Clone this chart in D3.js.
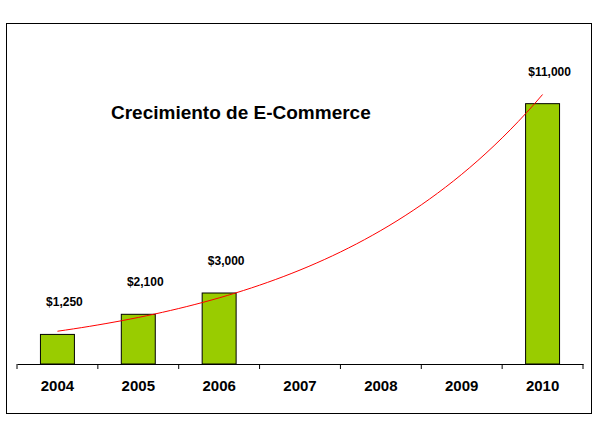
<!DOCTYPE html><html><head><meta charset="utf-8">
<script src="https://cdn.jsdelivr.net/npm/d3@7"></script>
<style>body{margin:0;background:#fff}</style></head><body><svg id="c" width="598" height="440"></svg>
<script>
const years=["2004","2005","2006","2007","2008","2009","2010"];
const values=[1250,2100,3000,null,null,null,11000];
const valueLabels=["$1,250","$2,100","$3,000","","","","$11,000"];
const title="Crecimiento de E-Commerce";
const svg=d3.select("#c");
const font="'Liberation Sans',Arial,sans-serif";
svg.append("rect").attr("x",6.5).attr("y",23.5).attr("width",585).attr("height",390).attr("fill","#fff").attr("stroke","#000");
const x=d3.scaleBand().domain(years).range([17,583]).paddingInner(0.58).paddingOuter(0.29);
const xo=d3.scaleBand().domain(years).range([17,583]);
const y=d3.scaleLinear().domain([0,12000]).range([364,80]);
const g=svg.append("g").attr("transform","translate(0,364)");
const ax=d3.axisBottom(xo).tickSize(0).tickFormat(d=>d);
g.call(ax);g.select(".domain").attr("stroke","#000");
g.selectAll(".tick text").attr("dy","1.6em").attr("font-family",font).attr("font-weight","bold").attr("font-size","15px").attr("fill","#000");
xo.domain().concat(["end"]).forEach((d,i)=>{const xx=17+i*xo.step();g.append("line").attr("x1",xx).attr("x2",xx).attr("y1",0).attr("y2",5).attr("stroke","#000");});
const data=years.map((d,i)=>({y:d,v:values[i],l:valueLabels[i]})).filter(d=>d.v!=null);
svg.selectAll(".bar").data(data).enter().append("rect").attr("x",d=>x(d.y)).attr("width",x.bandwidth()).attr("y",d=>y(d.v)).attr("height",d=>364-y(d.v)).attr("fill","#99CC00").attr("stroke","#000");
svg.selectAll(".vl").data(data).enter().append("text").attr("x",d=>xo(d.y)+xo.bandwidth()/2+7).attr("y",d=>y(d.v)-28).attr("text-anchor","middle").attr("font-family",font).attr("font-weight","bold").attr("font-size","12px").text(d=>d.l);
// exponential trendline fitted to data (least squares on log values)
const pts=data.map(d=>[years.indexOf(d.y),Math.log(d.v)]);
const n=pts.length,mx=d3.mean(pts,p=>p[0]),my=d3.mean(pts,p=>p[1]);
const b=d3.sum(pts,p=>(p[0]-mx)*(p[1]-my))/d3.sum(pts,p=>(p[0]-mx)**2),a=my-b*mx;
const cx=i=>xo(years[0])+xo.bandwidth()/2+i*xo.step();
const tr=d3.range(0,6.01,0.1).map(t=>[cx(t),y(Math.exp(a+b*t))]);
svg.append("path").attr("d",d3.line()(tr)).attr("fill","none").attr("stroke","#f00").attr("stroke-width",1);
svg.append("text").attr("x",111).attr("y",119).attr("font-family",font).attr("font-weight","bold").attr("font-size","19px").text(title);
</script></body></html>
